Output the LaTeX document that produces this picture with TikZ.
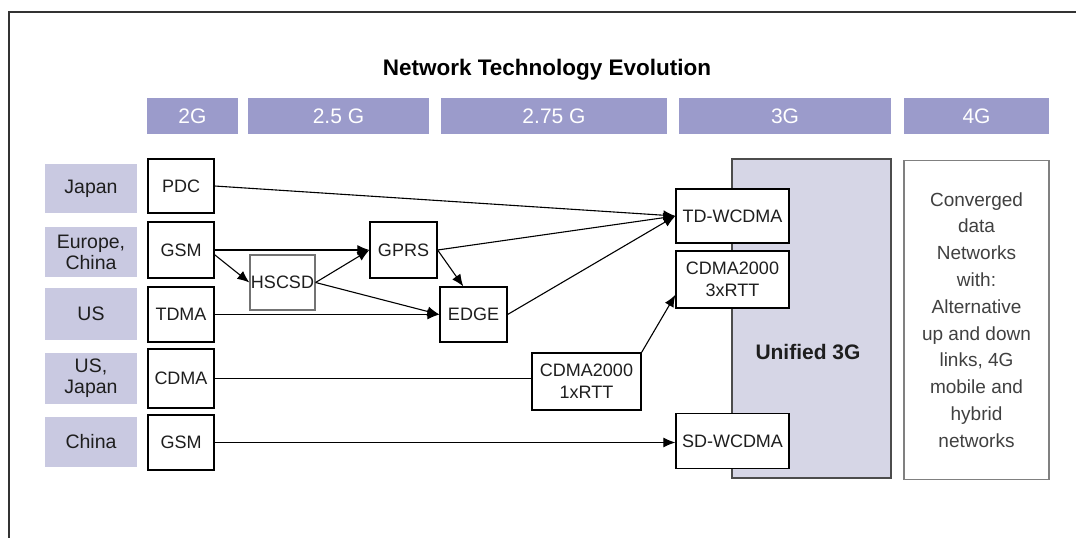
\documentclass[tikz,border=0pt]{standalone}
\usepackage{fontspec}
\setmainfont{Liberation Sans}
\usetikzlibrary{arrows.meta}

\definecolor{genbar}{HTML}{9B9BCB}
\definecolor{regionbg}{HTML}{C9C9E1}
\definecolor{unifiedbg}{HTML}{D6D6E6}
\definecolor{darktext}{HTML}{1E1E1E}

\begin{document}
\begin{tikzpicture}[x=1pt,y=-1pt]

      \useasboundingbox (0,0) rectangle (1076,538);
      \draw[line width=2.4pt, black!80] (1076,12) -- (9,12) -- (9,538);

      \node (title) at (547,70) {\fontsize{22.5}{24}\selectfont\bfseries Network Technology Evolution};

      % generation bars
      \begin{scope}[every node/.style={fill=genbar, text=white, inner sep=0pt, minimum height=36pt,
          font=\fontsize{21}{23}\selectfont}]
        \node[minimum width=91pt]  (g2)  at (192.5,116) {2G};
        \node[minimum width=181pt] (g25) at (338.5,116) {2.5 G};
        \node[minimum width=226pt] (g275) at (554,116) {2.75 G};
        \node[minimum width=212pt] (g3)  at (785,116) {3G};
        \node[minimum width=145pt] (g4)  at (976.5,116) {4G};
      \end{scope}

      % regions
      \begin{scope}[every node/.style={fill=regionbg, text=darktext, inner sep=0pt, minimum width=92pt,
          align=center, font=\fontsize{19.5}{21}\selectfont}]
        \node[minimum height=49pt] (japan)  at (91,188.5) {Japan};
        \node[minimum height=50pt] (europe) at (91,252)   {Europe,\\China};
        \node[minimum height=52pt] (us)     at (91,314)   {US};
        \node[minimum height=51pt] (usjp)   at (91,378.5) {US,\\Japan};
        \node[minimum height=50pt] (china)  at (91,442)   {China};
      \end{scope}

      % 3G and 4G blocks
      \node[fill=unifiedbg, draw=black!70, line width=1.2pt, minimum width=159pt, minimum height=319pt]
        (unified) at (811.5,318.5) {};
      \node (unilabel) at (808,352) {\fontsize{21}{23}\selectfont\bfseries\color{darktext}Unified 3G};
      \node[fill=white, draw=black!50, line width=1.2pt, minimum width=145pt, minimum height=319pt,
          inner sep=0pt, align=center, text=black!75, font=\fontsize{19}{26.8}\selectfont]
        (fourg) at (976.5,320) {Converged\\data\\Networks\\with:\\Alternative\\up and down\\links, 4G\\mobile and\\hybrid\\networks};

      % technologies
      \begin{scope}[every node/.style={fill=white, draw=black, line width=1.2pt, inner sep=0pt,
          align=center, text=darktext, font=\fontsize{18}{22}\selectfont}]
        \node[minimum width=66pt, minimum height=54pt] (pdc)   at (181,186)   {PDC};
        \node[minimum width=66pt, minimum height=56pt] (gsm)   at (181,250)   {GSM};
        \node[minimum width=66pt, minimum height=55pt] (tdma)  at (181,314.5) {TDMA};
        \node[minimum width=66pt, minimum height=59pt] (cdma)  at (181,378.5) {CDMA};
        \node[minimum width=66pt, minimum height=55pt] (gsmcn) at (181,442.5) {GSM};
        \node[minimum width=65pt, minimum height=55pt, draw=black!55] (hscsd) at (282.5,282.5) {HSCSD};
        \node[minimum width=67pt, minimum height=56pt] (gprs)  at (403.5,250) {GPRS};
        \node[minimum width=67pt, minimum height=55pt] (edgenet) at (473.5,314.5) {EDGE};
        \node[minimum width=109pt, minimum height=57pt] (rtt1) at (586.5,381.5) {CDMA2000\\1xRTT};
        \node[minimum width=113pt, minimum height=54pt] (tdw)  at (732.5,216)   {TD-WCDMA};
        \node[minimum width=113pt, minimum height=57pt] (rtt3) at (732.5,279.5) {CDMA2000\\3xRTT};
        \node[minimum width=113pt, minimum height=55pt] (sdw)  at (732.5,441)   {SD-WCDMA};
      \end{scope}

      % evolution paths
      \begin{scope}[every edge/.style={draw, line width=1.1pt, -{Latex[length=12pt,width=10pt]}}]
        \path (pdc.east)   edge (tdw.west);
        \path (gsm.east)   edge (gprs.west);
        \path (gsm.-8)     edge (hscsd.west);
        \path (hscsd.east) edge (gprs.west);
        \path (hscsd.east) edge (edgenet.west);
        \path (tdma.east)  edge (edgenet.west);
        \path (gprs.east)  edge (edgenet.110);
        \path (gprs.east)  edge (tdw.west);
        \path (edgenet.east) edge (tdw.west);
        \path (cdma.east)  edge[-] (cdma.east -| rtt1.west);
        \path (rtt1.north east) edge (rtt3.195);
        \path (gsmcn.east) edge (gsmcn.east -| sdw.west);
      \end{scope}

    \end{tikzpicture}
\end{document}
